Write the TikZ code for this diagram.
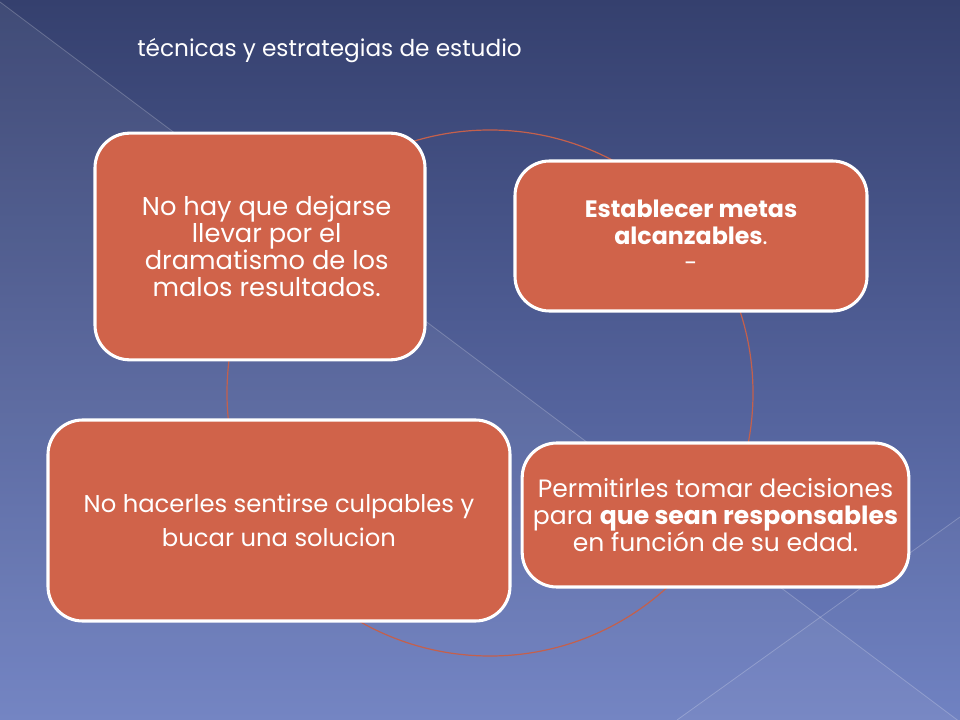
\documentclass[tikz,border=0pt]{standalone}
\usepackage{fontspec}
\setmainfont{Poppins}
\definecolor{bgtop}{HTML}{35406E}
\definecolor{bgbot}{HTML}{6C7EC0}
\definecolor{boxfill}{HTML}{D0634A}
\definecolor{ringc}{HTML}{C4604C}
\begin{document}
\begin{tikzpicture}[x=0.75pt,y=-0.75pt,
  box/.style={draw=white, line width=2.3pt, fill=boxfill, rounded corners=26pt,
    inner sep=0pt, align=center, text=white},
  ring/.style={draw=ringc, line width=0.9pt},
  facet/.style={draw=white, draw opacity=0.22, line width=0.6pt}]
% background
\shade[top color=bgtop, bottom color=bgbot] (0,0) rectangle (960,720);
\useasboundingbox (0,0) rectangle (960,720);
\fill[white, opacity=0.06] (0,2) -- (960,722) -- (0,720) -- cycle;
\fill[white, opacity=0.03] (960,517) -- (960,720) -- (677,720) -- cycle;
\coordinate (d1) at (0,2);
\coordinate (d2) at (960,722);
\coordinate (e1) at (960,517);
\coordinate (e2) at (677,720);
\draw[facet] (d1) -- (d2);
\draw[facet] (e1) -- (e2);
% title
\node[anchor=base west, text=white, inner sep=0pt, font=\fontsize{17.4}{20}\selectfont] (title) at (137,57) {técnicas y estrategias de estudio};
% ring
\coordinate (c) at (490,393);
\draw[ring] (c) circle[radius=197.25pt];
% boxes
\node[box, minimum width=247.5pt, minimum height=170pt, font=\fontsize{19.3}{20.3}\selectfont] (tl) at (260,246.5)
  {\hspace*{10pt}No hay que dejarse\\\hspace*{10pt}llevar por el\\\hspace*{10pt}dramatismo de los\\\hspace*{10pt}malos resultados.};
\node[box, minimum width=264pt, minimum height=112.5pt, font=\fontsize{17.8}{20.3}\selectfont] (tr) at (691,236)
  {\textbf{Establecer metas}\\\textbf{alcanzables}.\\-};
\node[box, minimum width=290pt, minimum height=108pt, font=\fontsize{18.8}{20.3}\selectfont] (br) at (715.5,515)
  {Permitirles tomar decisiones\\para \textbf{que sean responsables}\\en función de su edad.};
\node[box, minimum width=346.5pt, minimum height=150.75pt, font=\fontsize{18.2}{25}\selectfont] (bl) at (279,520.5)
  {No hacerles sentirse culpables y\\bucar una solucion};
\end{tikzpicture}
\end{document}
